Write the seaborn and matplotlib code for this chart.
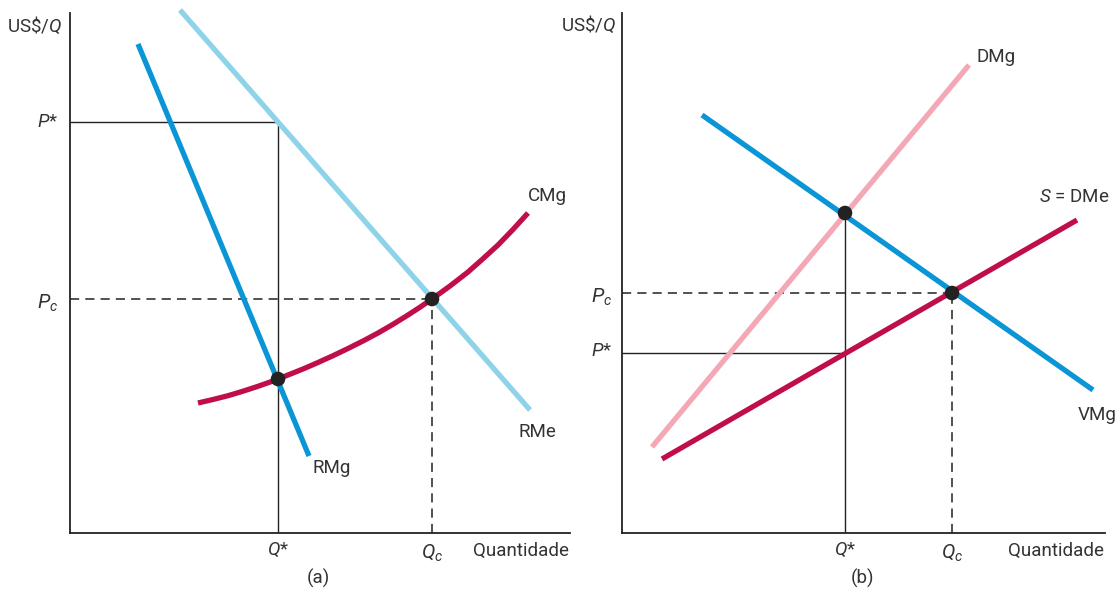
#!/usr/bin/env python3

import pandas as pd
import seaborn as sns
import matplotlib.pyplot as plt

# panel (a): monopsony, values in chart units
rme_x = [110, 460]
rme_y = [523, 123]
rmg_x = [68, 239]
rmg_y = [489, 77]
cmg_x = [128, 143, 158, 173, 188, 203, 218, 233, 248, 263, 278, 293, 308, 323, 338, 350, 362, 380, 398, 413, 428, 443, 458]
cmg_y = [130, 133.5, 137.3, 141.8, 146.7, 152, 158, 164, 170.5, 177.3, 184.5, 192, 200, 208.7, 218, 225.8, 234, 247, 261, 274.3, 288, 303.5, 320]
a_pstar = 411
a_pc = 234
a_qstar = 208
a_qc = 362
a_qstar_dot = 154

# panel (b): monopsony power / buyer side
dmg_x = [30, 347]
dmg_y = [86, 468]
vmg_x = [80, 471]
vmg_y = [418, 143]
s_x = [40, 455]
s_y = [74, 313]
b_pstar = 180
b_pc = 240
b_qstar = 223
b_qc = 330
b_qstar_top = 320

BLUE = '#0a96d6'
LIGHT = '#8ed3ea'
RED = '#c00d4b'
PINK = '#f4a7b5'
TXT = '#333333'
FS = 13.5

sns.set_style('white')
plt.rcParams['font.family'] = ['Roboto', 'DejaVu Sans']
plt.rcParams['mathtext.fontset'] = 'custom'
plt.rcParams['mathtext.rm'] = 'Roboto'
plt.rcParams['mathtext.it'] = 'Roboto:italic'

W, H = 1116, 594
fig = plt.figure(figsize=(W / 100, H / 100), dpi=100)

def make_axes(left, right):
	ax = fig.add_axes([left / W, (H - 533) / H, (right - left) / W, 528 / H])
	ax.set_xlim(0, right - left)
	ax.set_ylim(0, 528)
	for s in ['top', 'right']:
		ax.spines[s].set_visible(False)
	for s in ['left', 'bottom']:
		ax.spines[s].set_color('#222222')
		ax.spines[s].set_linewidth(1.3)
	ax.spines['left'].set_bounds(0, 520)
	ax.set_xticks([])
	ax.set_yticks([])
	ax.patch.set_alpha(0)
	return ax

def curve(ax, xs, ys, color):
	d = pd.DataFrame({'x': xs, 'y': ys})
	sns.lineplot(data=d, x='x', y='y', ax=ax, color=color, lw=3.8,
		sort=False, estimator=None, clip_on=False, solid_capstyle='butt')

def label(ax, x, y, s, ha='left', size=FS):
	ax.text(x, y, s, ha=ha, va='center', fontsize=size, color=TXT, clip_on=False)

def guides(ax, qs, ps, qtop, qc, pc):
	ax.plot([0, qs], [ps, ps], color='#222222', lw=1)
	ax.plot([qs, qs], [0, qtop], color='#222222', lw=1)
	ax.plot([0, qc], [pc, pc], color='#222222', lw=1.1, ls=(0, (6, 4)))
	ax.plot([qc, qc], [0, pc], color='#222222', lw=1.1, ls=(0, (6, 4)))

# ---------- (a)
ax1 = make_axes(70, 570)
guides(ax1, a_qstar, a_pstar, a_pstar, a_qc, a_pc)
curve(ax1, rme_x, rme_y, LIGHT)
curve(ax1, rmg_x, rmg_y, BLUE)
curve(ax1, cmg_x, cmg_y, RED)
sns.scatterplot(x=[a_qstar, a_qc], y=[a_qstar_dot, a_pc], ax=ax1, color='#222222',
	s=110, edgecolor='none', zorder=5, clip_on=False)
label(ax1, 242, 65, 'RMg')
label(ax1, 449, 101, 'RMe')
label(ax1, 458, 337, 'CMg')
label(ax1, -8, 508, r'US\$/$Q$', ha='right')
label(ax1, -12, a_pstar, '$P$*', ha='right')
label(ax1, -12, a_pc - 4, '$P_c$', ha='right', size=FS + 1)
label(ax1, a_qstar, -17, '$Q$*', ha='center')
label(ax1, a_qc, -20, '$Q_c$', ha='center', size=FS + 1)
label(ax1, 499, -18, 'Quantidade', ha='right')
label(ax1, 248, -45, '(a)', ha='center')

# ---------- (b)
ax2 = make_axes(622, 1105)
guides(ax2, b_qstar, b_pstar, b_qstar_top, b_qc, b_pc)
curve(ax2, dmg_x, dmg_y, PINK)
curve(ax2, vmg_x, vmg_y, BLUE)
curve(ax2, s_x, s_y, RED)
sns.scatterplot(x=[b_qstar, b_qc], y=[b_qstar_top, b_pc], ax=ax2, color='#222222',
	s=110, edgecolor='none', zorder=5, clip_on=False)
label(ax2, 355, 476, 'DMg')
label(ax2, 456, 118, 'VMg')
label(ax2, 487, 336, '$S$ = DMe', ha='right')
label(ax2, -6, 509, r'US\$/$Q$', ha='right')
label(ax2, -10, b_pc - 4, '$P_c$', ha='right', size=FS + 1)
label(ax2, -10, b_pstar + 2, '$P$*', ha='right')
label(ax2, b_qstar, -17, '$Q$*', ha='center')
label(ax2, b_qc, -20, '$Q_c$', ha='center', size=FS + 1)
label(ax2, 482, -18, 'Quantidade', ha='right')
label(ax2, 240, -45, '(b)', ha='center')

fig.savefig('out.png', dpi=100)
